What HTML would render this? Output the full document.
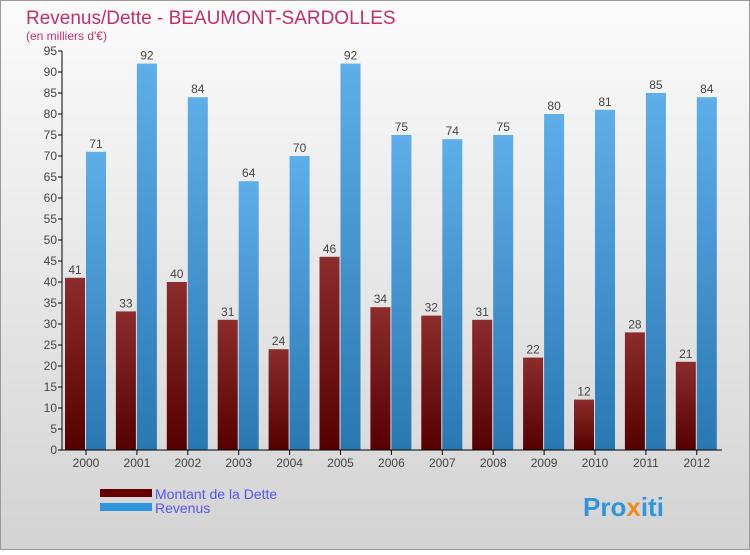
<!DOCTYPE html>
<html><head><meta charset="utf-8"><style>
body{margin:0;width:750px;height:550px;overflow:hidden;font-family:"Liberation Sans",sans-serif}
</style></head><body>
<svg id="c" width="750" height="550" xmlns="http://www.w3.org/2000/svg">
<defs>
<linearGradient id="bg" x1="0" y1="0" x2="0" y2="1"><stop offset="0" stop-color="#fbfbfb"/><stop offset="1" stop-color="#d3d3d3"/></linearGradient>
<linearGradient id="gd" x1="0" y1="0" x2="0" y2="1"><stop offset="0" stop-color="#8c2c2c"/><stop offset="1" stop-color="#560000"/></linearGradient>
<linearGradient id="gr" x1="0" y1="0" x2="0" y2="1"><stop offset="0" stop-color="#5eaeea"/><stop offset="1" stop-color="#2a78b2"/></linearGradient>
</defs>
<rect x="0.5" y="0.5" width="749" height="549" fill="url(#bg)" stroke="#999"/>
<text x="26" y="24" font-size="19" fill="#c0306a">Revenus/Dette - BEAUMONT-SARDOLLES</text>
<text x="26" y="40" font-size="12" fill="#c0306a">(en milliers d'€)</text>
<g id="plot"></g>
<rect x="100" y="489" width="52" height="8" fill="#660000"/>
<rect x="100" y="503" width="52" height="8" fill="#2f95de"/>
<text x="155" y="499" font-size="14" fill="#5555ee">Montant de la Dette</text>
<text x="155" y="513" font-size="14" fill="#5555ee">Revenus</text>
<text x="583" y="516" font-size="26" font-weight="bold" fill="#2f95de">Pro<tspan fill="#f08a1c">x</tspan>iti</text>
</svg>
<script>
const years=["2000","2001","2002","2003","2004","2005","2006","2007","2008","2009","2010","2011","2012"];
const dette=[41,33,40,31,24,46,34,32,31,22,12,28,21];
const revenus=[71,92,84,64,70,92,75,74,75,80,81,85,84];
const yTicks=[0,5,10,15,20,25,30,35,40,45,50,55,60,65,70,75,80,85,90,95];
const NS="http://www.w3.org/2000/svg";
const g=document.getElementById('plot');
const x0=62,y0=450,yTop=51,yMax=95,step=50.9;
const y=v=>y0-(v/yMax)*(y0-yTop);
const gx=i=>x0+3+i*step;
function el(t,a,txt){const e=document.createElementNS(NS,t);for(const k in a)e.setAttribute(k,a[k]);if(txt!=null)e.textContent=txt;g.appendChild(e);return e;}
years.forEach((yr,i)=>{
 const bx=gx(i);
 let r=el('rect',{x:bx,y:y(dette[i]),width:20,height:y0-y(dette[i]),fill:'url(#gd)'});
 
 
 r=el('rect',{x:bx+21,y:y(revenus[i]),width:20,height:y0-y(revenus[i]),fill:'url(#gr)'});
 
 
 let t=el('text',{x:bx+10,y:y(dette[i])-4,'font-size':12,fill:'#444','text-anchor':'middle'},dette[i]);
 
 
 t=el('text',{x:bx+31,y:y(revenus[i])-4,'font-size':12,fill:'#444','text-anchor':'middle'},revenus[i]);
 
 
 el('line',{x1:bx+21,x2:bx+21,y1:y0,y2:y0+5,stroke:'#000'});
 t=el('text',{x:bx+21,y:y0+17,'font-size':12,fill:'#444','text-anchor':'middle'},yr);
 
 
});
yTicks.forEach(v=>{
 el('line',{x1:x0-4,x2:x0,y1:y(v),y2:y(v),stroke:'#000'});
 const t=el('text',{x:x0-5,y:y(v)+4,'font-size':12,fill:'#444','text-anchor':'end'},v);
 
 
});
let a=el('line',{x1:x0,x2:x0,y1:yTop,y2:y0,stroke:'#000'});


a=el('line',{x1:x0,x2:722,y1:y0,y2:y0,stroke:'#000'});


</script>
</body></html>
